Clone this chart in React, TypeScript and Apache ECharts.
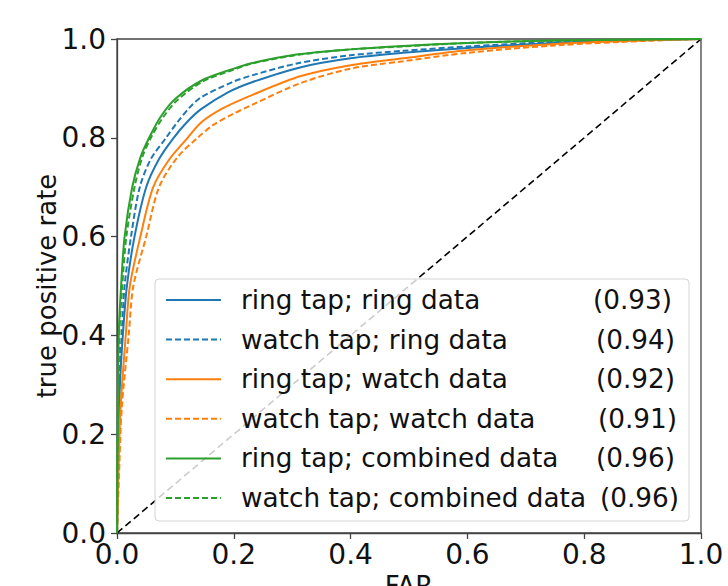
import React, { useEffect, useRef } from "react";
import * as echarts from "echarts";

const xTicks = [0, 0.2, 0.4, 0.6, 0.8, 1.0];
const yTicks = [0, 0.2, 0.4, 0.6, 0.8, 1.0];

const seriesNames = [
  "ring tap; ring data",
  "watch tap; ring data",
  "ring tap; watch data",
  "watch tap; watch data",
  "ring tap; combined data",
  "watch tap; combined data",
];
const aucValues = ["(0.93)", "(0.94)", "(0.92)", "(0.91)", "(0.96)", "(0.96)"];
const seriesColors = ["#1f77b4", "#1f77b4", "#ff7f0e", "#ff7f0e", "#2ca02c", "#2ca02c"];
const seriesDashed = [false, true, false, true, false, true];

const ringRing = [
  [0, 0], [0.002, 0.15], [0.005, 0.3], [0.01, 0.4], [0.017, 0.5], [0.03, 0.6],
  [0.05, 0.7], [0.072, 0.757], [0.097, 0.8], [0.12, 0.832], [0.144, 0.858],
  [0.19, 0.892], [0.23, 0.912], [0.315, 0.943], [0.4, 0.961], [0.49, 0.972],
  [0.6, 0.982], [0.75, 0.992], [0.9, 0.998], [1, 1],
];
const watchRing = [
  [0, 0], [0.002, 0.15], [0.004, 0.3], [0.008, 0.4], [0.013, 0.5], [0.024, 0.6],
  [0.039, 0.7], [0.058, 0.757], [0.084, 0.8], [0.105, 0.834], [0.125, 0.862],
  [0.144, 0.882], [0.2, 0.914], [0.23, 0.926], [0.31, 0.951], [0.4, 0.967],
  [0.49, 0.976], [0.6, 0.985], [0.75, 0.994], [0.9, 0.998], [1, 1],
];
const ringWatch = [
  [0, 0], [0.002, 0.1], [0.006, 0.25], [0.015, 0.4], [0.022, 0.5], [0.04, 0.6],
  [0.062, 0.7], [0.09, 0.757], [0.121, 0.8], [0.144, 0.831], [0.18, 0.859],
  [0.23, 0.886], [0.315, 0.925], [0.4, 0.947], [0.49, 0.961], [0.6, 0.977],
  [0.75, 0.99], [0.9, 0.997], [1, 1],
];
const watchWatch = [
  [0, 0], [0.003, 0.1], [0.008, 0.25], [0.02, 0.4], [0.028, 0.5], [0.05, 0.6],
  [0.072, 0.7], [0.103, 0.76], [0.138, 0.8], [0.165, 0.826], [0.2, 0.849],
  [0.23, 0.866], [0.315, 0.911], [0.4, 0.94], [0.49, 0.955], [0.6, 0.972],
  [0.75, 0.987], [0.9, 0.996], [1, 1],
];
const ringCombined = [
  [0, 0], [0.001, 0.2], [0.003, 0.4], [0.007, 0.5], [0.013, 0.6], [0.026, 0.7],
  [0.04, 0.76], [0.055, 0.8], [0.075, 0.843], [0.1, 0.879], [0.145, 0.916],
  [0.2, 0.94], [0.23, 0.951], [0.31, 0.969], [0.4, 0.979], [0.49, 0.986],
  [0.6, 0.992], [0.75, 0.997], [0.9, 0.999], [1, 1],
];
const watchCombined = [
  [0, 0], [0.001, 0.15], [0.004, 0.4], [0.009, 0.5], [0.016, 0.6], [0.03, 0.7],
  [0.043, 0.76], [0.058, 0.8], [0.078, 0.84], [0.103, 0.876], [0.147, 0.914],
  [0.2, 0.938], [0.23, 0.95], [0.31, 0.968], [0.4, 0.979], [0.49, 0.985],
  [0.6, 0.992], [0.75, 0.997], [0.9, 0.999], [1, 1],
];
const chanceLine = [[0, 0], [1, 1]];

const seriesData = [ringRing, watchRing, ringWatch, watchWatch, ringCombined, watchCombined];

const FONT = "DejaVu Sans";

export default function App() {
  const ref = useRef<HTMLDivElement>(null);
  useEffect(() => {
    if (!ref.current) return;
    const chart = echarts.init(ref.current, undefined, { renderer: "svg" });
    const idxByName: Record<string, number> = {};
    seriesNames.forEach((n, i) => (idxByName[n] = i));
    const valueWidths = [79, 82, 82, 84, 82, 86];
    const rich: any = {
      n: { fontSize: 26.3, fontFamily: FONT, color: "#111", width: 352, lineHeight: 26 },
    };
    valueWidths.forEach((w, i) => {
      rich["v" + i] = { fontSize: 26.3, fontFamily: FONT, color: "#111", width: w, align: "right", lineHeight: 26 };
    });
    const option: any = {
      animation: false,
      backgroundColor: "#fff",
      textStyle: { fontFamily: FONT },
      grid: {
        left: 117,
        right: 27,
        top: 39,
        bottom: 53,
        outerBoundsMode: "none",
        containLabel: false,
        show: true,
        borderColor: "#444",
        borderWidth: 1.3,
        backgroundColor: "transparent",
      },
      xAxis: {
        type: "value",
        min: 0,
        max: 1,
        interval: 0.2,
        name: "FAR",
        nameLocation: "middle",
        nameGap: 38,
        nameTextStyle: { fontSize: 26, color: "#111", fontFamily: FONT },
        axisLine: { show: true, lineStyle: { color: "#444", width: 1.3 } },
        axisTick: { show: true, length: 6, lineStyle: { color: "#444", width: 1.3 } },
        axisLabel: {
          fontSize: 28,
          color: "#111",
          fontFamily: FONT,
          margin: 7,
          formatter: (v: number) => v.toFixed(1),
        },
        splitLine: { show: false },
      },
      yAxis: {
        type: "value",
        min: 0,
        max: 1,
        interval: 0.2,
        name: "true positive rate",
        nameLocation: "middle",
        nameGap: 57,
        nameMoveOverlap: false,
        nameTextStyle: { fontSize: 26, color: "#111", fontFamily: FONT },
        axisLine: { show: true, lineStyle: { color: "#444", width: 1.3 } },
        axisTick: { show: true, length: 6, lineStyle: { color: "#444", width: 1.3 } },
        axisLabel: {
          fontSize: 28,
          color: "#111",
          fontFamily: FONT,
          margin: 11,
          formatter: (v: number) => v.toFixed(1),
        },
        splitLine: { show: false },
      },
      legend: {
        data: seriesNames,
        orient: "vertical",
        left: 155,
        top: 279,
        padding: [8, 10, 10, 10],
        itemGap: 13.6,
        itemWidth: 55,
        itemHeight: 26,
        backgroundColor: "rgba(255,255,255,0.8)",
        borderColor: "#d4d4d4",
        borderWidth: 1,
        borderRadius: 4,
        selectedMode: false,
        itemStyle: { opacity: 0 },
        textStyle: {
          fontSize: 26,
          fontFamily: FONT,
          color: "#111",
          padding: [0, 0, 0, 15],
          rich,
        },
        formatter: (name: string) => {
          const i = idxByName[name];
          return `{n|${name}}{v${i}|${aucValues[i]}}`;
        },
      },
      series: [
        {
          name: "chance",
          type: "line",
          data: chanceLine,
          symbol: "none",
          z: 1,
          lineStyle: { color: "#000", width: 1.6, type: [7, 4] },
          itemStyle: { color: "#000" },
        },
        ...seriesNames.map((name, i) => ({
          name,
          type: "line",
          data: seriesData[i],
          symbol: "none",
          smooth: 0.3,
          z: 3,
          itemStyle: { color: seriesColors[i] },
          lineStyle: {
            color: seriesColors[i],
            width: 2,
            type: seriesDashed[i] ? [6, 3] : "solid",
          },
        })),
      ],
    };
    chart.setOption(option);
    return () => chart.dispose();
  }, []);
  return <div ref={ref} style={{ width: 728, height: 586, position: "absolute", left: 0, top: 0 }} />;
}
